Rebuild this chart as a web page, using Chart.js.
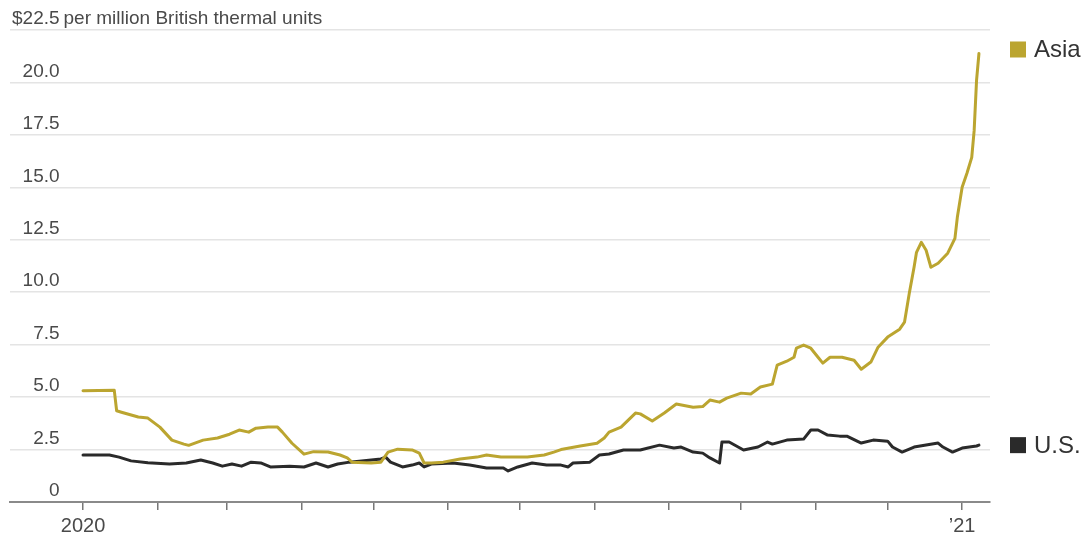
<!DOCTYPE html>
<html>
<head>
<meta charset="utf-8">
<title>LNG prices, Asia vs U.S.</title>
<script src="https://cdn.jsdelivr.net/npm/chart.js@4.4.1/dist/chart.umd.min.js"></script>
<style>
  html, body { margin: 0; padding: 0; background: #fff; }
  #wrap { width: 1088px; height: 539px; position: relative; }
</style>
</head>
<body>
<div id="wrap"><canvas id="lng-chart" width="1088" height="539"></canvas></div>
<script>
/* Natural gas prices, $ per million British thermal units
   x = days since 2020-01-01 */
var asiaDays = [0, 13, 14, 16, 23, 27, 32, 37, 42, 44, 50, 56, 61, 65, 69, 72, 77, 81, 83, 87,
  92, 96, 102, 107, 110, 112, 120, 124, 127, 131, 137, 140, 142, 145, 150, 157, 164, 168, 174, 185,
  192, 196, 199, 207, 214, 217, 219, 224, 230, 232, 237, 242, 247, 254, 258, 261, 265, 268, 274, 278,
  282, 287, 289, 293, 296, 297, 300, 303, 306, 308, 311, 316, 321, 324, 328, 331, 335, 340, 342, 344,
  346, 347, 349, 351, 353, 356, 360, 363, 364, 366, 368, 370, 371, 372, 373];
var asiaPrices = [5.30, 5.33, 4.35, 4.28, 4.05, 4.00, 3.57, 2.95, 2.76, 2.70, 2.95, 3.05, 3.23, 3.43, 3.33, 3.52, 3.57, 3.57, 3.33, 2.80,
  2.28, 2.40, 2.38, 2.24, 2.10, 1.90, 1.86, 1.90, 2.38, 2.52, 2.48, 2.33, 1.86, 1.86, 1.90, 2.05, 2.14, 2.24, 2.14, 2.14,
  2.24, 2.38, 2.50, 2.67, 2.80, 3.05, 3.33, 3.57, 4.24, 4.20, 3.86, 4.24, 4.67, 4.52, 4.55, 4.86, 4.76, 4.95, 5.19, 5.15,
  5.48, 5.62, 6.52, 6.71, 6.90, 7.33, 7.48, 7.33, 6.90, 6.62, 6.90, 6.90, 6.76, 6.33, 6.67, 7.38, 7.86, 8.24, 8.57, 9.95,
  11.20, 11.90, 12.38, 12.00, 11.19, 11.38, 11.86, 12.57, 13.57, 15.00, 15.67, 16.43, 17.70, 20.10, 21.38];

var usDays = [0, 11, 15, 20, 27, 36, 43, 49, 54, 58, 62, 66, 70, 74, 78, 86, 92, 97, 102, 106,
  111, 124, 126, 128, 133, 137, 140, 142, 145, 154, 161, 168, 175, 177, 181, 187, 193, 199, 202, 204,
  211, 215, 219, 225, 232, 240, 246, 249, 254, 258, 261, 265, 266, 269, 275, 281, 285, 287, 293, 300,
  303, 306, 310, 315, 318, 324, 329, 335, 337, 341, 346, 356, 358, 362, 366, 372, 373];
var usPrices = [2.24, 2.24, 2.14, 1.96, 1.87, 1.81, 1.86, 2.00, 1.86, 1.71, 1.81, 1.71, 1.90, 1.86, 1.67, 1.71, 1.67, 1.86, 1.67, 1.81,
  1.90, 2.05, 2.14, 1.90, 1.67, 1.76, 1.86, 1.67, 1.81, 1.86, 1.76, 1.62, 1.62, 1.48, 1.67, 1.86, 1.76, 1.76, 1.67, 1.86,
  1.90, 2.24, 2.29, 2.48, 2.48, 2.71, 2.57, 2.62, 2.38, 2.33, 2.10, 1.86, 2.86, 2.86, 2.48, 2.62, 2.86, 2.76, 2.95, 3.00,
  3.43, 3.43, 3.19, 3.14, 3.14, 2.81, 2.95, 2.90, 2.62, 2.38, 2.62, 2.81, 2.62, 2.38, 2.57, 2.67, 2.71];

var seriesNames = ['Asia', 'U.S.'];
var monthStarts = [0, 31, 60, 91, 121, 152, 182, 213, 244, 274, 305, 335, 366];
var yTicks = [0, 2.5, 5, 7.5, 10, 12.5, 15, 17.5, 20, 22.5];
var unitText = 'per million British thermal units';

(function () {
  'use strict';

  var FONT = '"Liberation Sans", Arial, sans-serif';
  var COLORS = ['#bba530', '#2a2a2a'];

  function toPoints(days, vals) {
    return days.map(function (d, i) { return { x: d, y: vals[i] }; });
  }

  // unit text after the top tick, plus the end-of-line labels
  var labelsPlugin = {
    id: 'lineLabels',
    afterDraw: function (chart) {
      var ctx = chart.ctx;
      var y = chart.scales.y;
      var topY = y.getPixelForValue(yTicks[yTicks.length - 1]) - 11;
      ctx.save();
      ctx.font = '19px ' + FONT;
      var w = ctx.measureText('$22.5').width;
      ctx.fillStyle = '#4a4a4a';
      ctx.textAlign = 'left';
      ctx.textBaseline = 'middle';
      ctx.fillText(unitText, y.right + w + 6, topY);

      ctx.font = '24px ' + FONT;
      chart.data.datasets.forEach(function (ds, i) {
        var meta = chart.getDatasetMeta(i);
        var last = meta.data[meta.data.length - 1];
        var ly = last.y - (i === 0 ? 4 : 0);
        ctx.fillStyle = COLORS[i];
        ctx.fillRect(1010, ly - 8, 16, 16);
        ctx.fillStyle = '#333';
        ctx.fillText(ds.label, 1034, ly + 1);
      });
      ctx.restore();
    }
  };

  new Chart(document.getElementById('lng-chart'), {
    type: 'line',
    data: {
      datasets: [
        { label: seriesNames[0], data: toPoints(asiaDays, asiaPrices), borderColor: COLORS[0], borderWidth: 3, order: 0 },
        { label: seriesNames[1], data: toPoints(usDays, usPrices), borderColor: COLORS[1], borderWidth: 3, order: 1 }
      ]
    },
    options: {
      responsive: false,
      animation: false,
      events: [],
      parsing: false,
      elements: { point: { radius: 0 }, line: { tension: 0, borderJoinStyle: 'round', borderCapStyle: 'round' } },
      layout: { padding: { left: 10, right: 98, top: 30, bottom: 0 } },
      plugins: { legend: { display: false }, tooltip: { enabled: false } },
      scales: {
        x: {
          type: 'linear',
          min: -30.4,
          max: 377.6,
          afterBuildTicks: function (scale) {
            scale.ticks = monthStarts.map(function (v) { return { value: v }; });
          },
          afterFit: function (scale) { scale.height = 37; },
          grid: { drawOnChartArea: false, drawTicks: true, tickLength: 8, color: '#777', lineWidth: 1.5 },
          border: { display: true, color: '#8a8a8a', width: 2 },
          ticks: {
            autoSkip: false,
            maxRotation: 0,
            padding: 4,
            color: '#4a4a4a',
            font: { family: FONT, size: 20 },
            callback: function (v) {
              if (v === 0) return '2020';
              if (v === 366) return '\u201921';
              return '';
            }
          }
        },
        y: {
          min: 0,
          max: 22.5,
          afterBuildTicks: function (scale) {
            scale.ticks = yTicks.map(function (v) { return { value: v }; });
          },
          afterFit: function (scale) { scale.width = 0; },
          grid: { color: '#e4e4e4', lineWidth: 1.5, drawTicks: false },
          border: { display: false },
          ticks: {
            mirror: true,
            crossAlign: 'far',
            padding: 2,
            labelOffset: -11,
            color: '#4a4a4a',
            font: { family: FONT, size: 19 },
            callback: function (v) {
              if (v === 22.5) return '$22.5';
              if (v === 0) return '0';
              return v.toFixed(1);
            }
          }
        }
      }
    },
    plugins: [labelsPlugin]
  });
}());
</script>
</body>
</html>
